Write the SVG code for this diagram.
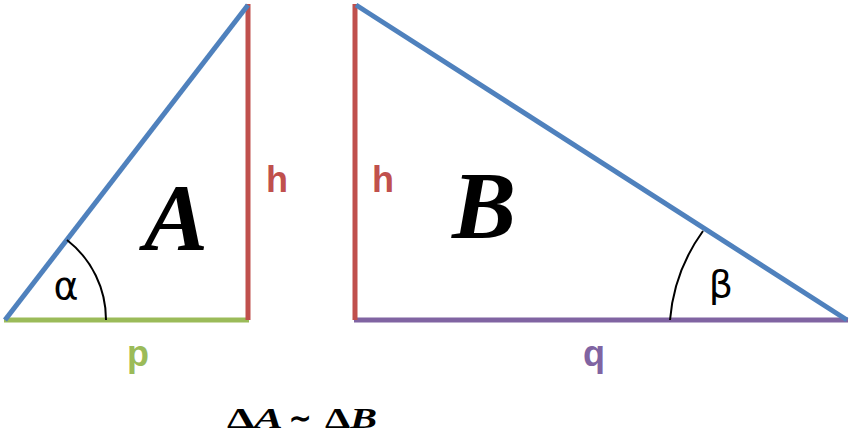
<svg xmlns="http://www.w3.org/2000/svg" width="850" height="439" viewBox="0 0 850 439">
<style>
.blue{stroke:#4F81BD;stroke-width:5;fill:none}
.red{stroke:#C0504D;stroke-width:5;fill:none}
.green{stroke:#9BBB59;stroke-width:5;fill:none}
.purple{stroke:#8064A2;stroke-width:5;fill:none}
.arc{stroke:#000;stroke-width:2;fill:none}
.lbl{font-family:"Liberation Sans",Arial,sans-serif;font-weight:bold}
.big{font-family:"Liberation Serif","Times New Roman",serif;font-weight:bold;font-style:italic;font-size:96px;fill:#000}
.greek{font-family:"DejaVu Sans","Liberation Sans",sans-serif;font-size:38px;fill:#000}
.cap{font-family:"Liberation Serif","Times New Roman",serif;font-weight:bold;font-size:29px;fill:#000}
</style>
<rect width="850" height="439" fill="#fff"/>
<g id="triangleA">
<line class="green" x1="4" y1="320" x2="249" y2="320"/>
<line class="red" x1="248" y1="4" x2="248" y2="320"/>
<line class="blue" x1="5" y1="320" x2="248" y2="5"/>
<path class="arc" d="M 67 240 A 101 101 0 0 1 106 320"/>
<text class="greek" x="66" y="299" text-anchor="middle">α</text>
<text class="big" x="176" y="250" text-anchor="middle">A</text>
<text class="lbl" x="277" y="192" font-size="36" fill="#C0504D" text-anchor="middle">h</text>
<text class="lbl" x="138" y="366" font-size="36" fill="#9BBB59" text-anchor="middle">p</text>
</g>
<g id="triangleB">
<line class="purple" x1="354" y1="320" x2="848" y2="320"/>
<line class="red" x1="355" y1="4" x2="355" y2="320"/>
<line class="blue" x1="356" y1="5" x2="847" y2="320"/>
<path class="arc" d="M 670 320 A 177 177 0 0 1 703 231"/>
<text class="greek" x="721" y="297" text-anchor="middle">β</text>
<text class="big" x="484" y="238" text-anchor="middle">B</text>
<text class="lbl" x="383" y="192" font-size="36" fill="#C0504D" text-anchor="middle">h</text>
<text class="lbl" x="594" y="366" font-size="36" fill="#8064A2" text-anchor="middle">q</text>
</g>
<g id="caption">
<text class="cap" x="227" y="428" textLength="56" lengthAdjust="spacingAndGlyphs">Δ<tspan font-style="italic">A</tspan></text>
<text class="cap" x="289" y="428" textLength="22" lengthAdjust="spacingAndGlyphs">∼</text>
<text class="cap" x="325" y="428" textLength="52" lengthAdjust="spacingAndGlyphs">Δ<tspan font-style="italic">B</tspan></text>
</g>
</svg>
